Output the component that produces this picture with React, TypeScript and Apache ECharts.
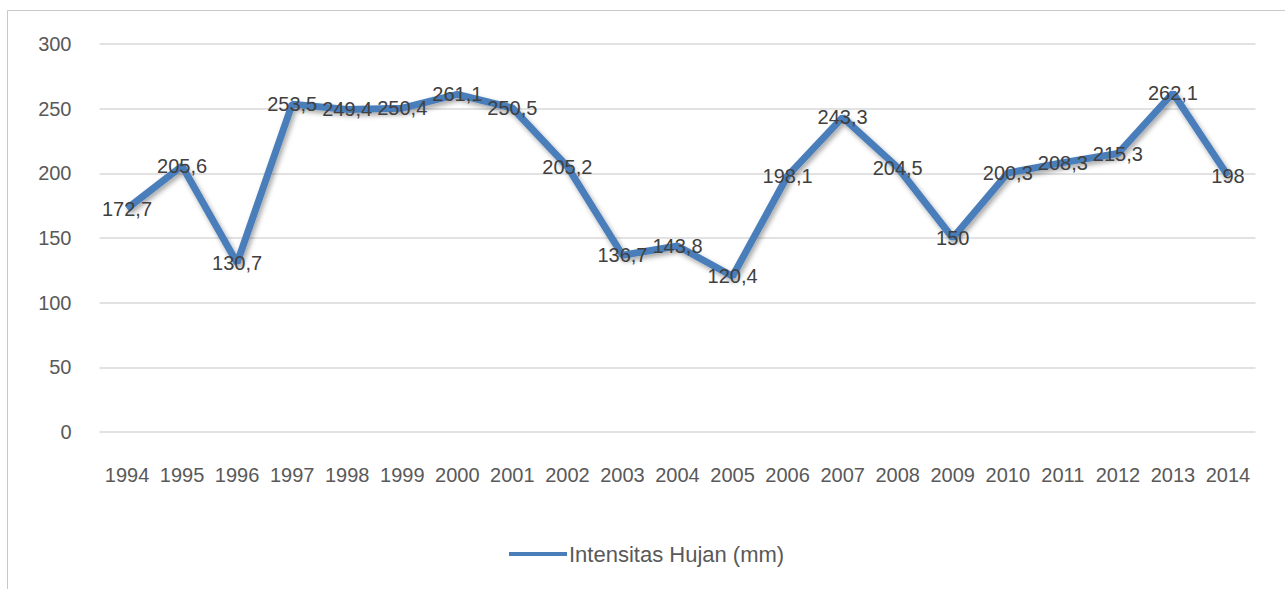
import React, { useEffect, useRef } from "react";
import * as echarts from "echarts";

const years = ["1994","1995","1996","1997","1998","1999","2000","2001","2002","2003","2004","2005","2006","2007","2008","2009","2010","2011","2012","2013","2014"];
const intensitas = [172.7, 205.6, 130.7, 253.5, 249.4, 250.4, 261.1, 250.5, 205.2, 136.7, 143.8, 120.4, 198.1, 243.3, 204.5, 150, 200.3, 208.3, 215.3, 262.1, 198];
const seriesName = "Intensitas Hujan (mm)";

const FONT = "'Liberation Sans', sans-serif";

export default function App() {
  const ref = useRef<HTMLDivElement>(null);
  useEffect(() => {
    document.body.style.margin = "0";
    const chart = echarts.init(ref.current!, null, { renderer: "svg" });
    chart.setOption({
      animation: false,
      backgroundColor: "#ffffff",
      textStyle: { fontFamily: FONT },
      graphic: [
        {
          type: "rect",
          shape: { x: 7.5, y: 10.5, width: 1300, height: 700 },
          style: { fill: "none", stroke: "#c9c9c9", lineWidth: 1 },
          silent: true,
          z: -1,
        },
      ],
      grid: { left: 99.5, right: 29.5, top: 44, bottom: 157 },
      legend: {
        left: 504,
        top: 538,
        icon: "rect",
        itemWidth: 58,
        itemHeight: 4,
        itemGap: 10,
        itemStyle: { color: "#4a7ebb", opacity: 1 },
        textStyle: { fontFamily: FONT, fontSize: 22, color: "#595959", padding: [0, 0, 0, -3] },
        data: [seriesName],
      },
      xAxis: {
        type: "category",
        data: years,
        boundaryGap: true,
        axisLine: { show: false },
        axisTick: { show: false },
        axisLabel: { color: "#595959", fontSize: 20, fontFamily: FONT, margin: 33, interval: 0 },
      },
      yAxis: {
        type: "value",
        min: 0,
        max: 300,
        interval: 50,
        axisLine: { show: false },
        axisTick: { show: false },
        axisLabel: { color: "#595959", fontSize: 20, fontFamily: FONT, margin: 28 },
        splitLine: { lineStyle: { color: "#d9d9d9", width: 1.5 } },
      },
      series: [
        {
          name: seriesName,
          type: "line",
          data: intensitas,
          symbol: "circle",
          symbolSize: 2,
          showSymbol: true,
          lineStyle: {
            color: "#4a7ebb",
            width: 7,
            shadowColor: "rgba(0,0,0,0.35)",
            shadowBlur: 5,
            shadowOffsetX: 2,
            shadowOffsetY: 3,
          },
          itemStyle: { color: "#4a7ebb", opacity: 0 },
          label: {
            show: true,
            position: "inside",
            color: "#404040",
            fontSize: 20,
            fontFamily: FONT,
            opacity: 1,
            formatter: (p: any) => String(p.value).replace(".", ","),
          },
          labelLayout: { hideOverlap: false },
        },
      ],
    });
    return () => chart.dispose();
  }, []);
  return <div ref={ref} style={{ width: 1285, height: 589 }} />;
}
